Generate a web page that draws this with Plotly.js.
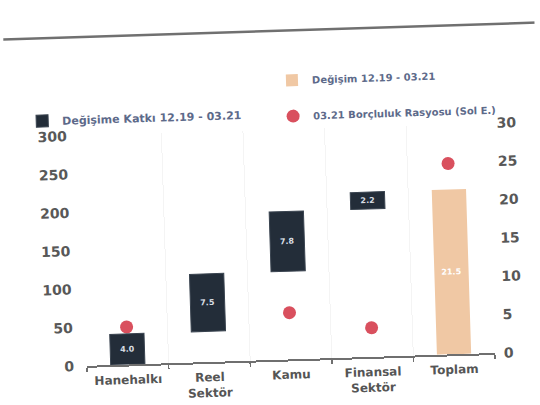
<!DOCTYPE html>
<html>
<head>
<meta charset="utf-8">
<script src="https://cdn.plot.ly/plotly-3.0.1.min.js"></script>
<style>
  html, body { margin: 0; padding: 0; background: #ffffff; overflow: hidden; }
  #chart { width: 540px; height: 405px; transform: rotate(-1.8deg); transform-origin: 50% 50%; }
</style>
</head>
<body>
<div id="chart"></div>
<script>
// Sectors
const categories = ['Hanehalkı', 'Reel<br>Sektör', 'Kamu', 'Finansal<br>Sektör', 'Toplam'];
// Contribution to the change 12.19 - 03.21 (right axis), one per sector
const contribution = [4.0, 7.5, 7.8, 2.2];
// Total change 12.19 - 03.21 (right axis)
const totalChange = [21.5];
// 03.21 debt ratio (left axis)
const debtRatio = [49, 104, 61, 38, 249];
// Axis ticks
const leftTicks = [0, 50, 100, 150, 200, 250, 300];
const rightTicks = [0, 5, 10, 15, 20, 25, 30];

const sectorCats = categories.slice(0, contribution.length);
const totalCat = categories.slice(contribution.length);

// floating bars start where the previous sector ended
const bases = [];
let running = 0;
contribution.forEach(v => { bases.push(running); running += v; });

const fmt = v => v.toFixed(1);
const legendFont = { family: 'DejaVu Sans', size: 10, weight: 700, color: '#5d6a8a' };

const traces = [
  {
    type: 'bar',
    name: 'Değişime Katkı 12.19 - 03.21',
    x: sectorCats,
    y: contribution,
    base: bases,
    yaxis: 'y2',
    width: 0.42,
    marker: { color: '#232d39', line: { color: '#3a4450', width: 1 } },
    text: contribution.map(fmt),
    textposition: 'inside',
    insidetextanchor: 'middle',
    textangle: 0,
    textfont: { family: 'DejaVu Sans', size: 8, weight: 700, color: '#d8dde3' },
    legend: 'legend2',
    hoverinfo: 'skip'
  },
  {
    type: 'bar',
    name: 'Değişim 12.19 - 03.21',
    x: totalCat,
    y: totalChange,
    yaxis: 'y2',
    width: 0.42,
    marker: { color: '#f0c8a4' },
    text: totalChange.map(fmt),
    textposition: 'inside',
    insidetextanchor: 'middle',
    textangle: 0,
    textfont: { family: 'DejaVu Sans', size: 8, weight: 700, color: '#ffffff' },
    legend: 'legend',
    hoverinfo: 'skip'
  },
  {
    type: 'scatter',
    mode: 'markers',
    name: '03.21 Borçluluk Rasyosu (Sol E.)',
    x: categories,
    y: debtRatio,
    yaxis: 'y',
    marker: { color: '#d9505e', size: 13 },
    legend: 'legend3',
    hoverinfo: 'skip'
  }
];

const tickFont = { family: 'DejaVu Sans', size: 14, weight: 700, color: '#585858' };

const layout = {
  width: 540,
  height: 405,
  margin: { l: 82, r: 50, t: 130, b: 45 },
  paper_bgcolor: '#ffffff',
  plot_bgcolor: '#ffffff',
  barmode: 'overlay',
  showlegend: true,
  xaxis: {
    type: 'category',
    categoryorder: 'array',
    categoryarray: categories,
    tickson: 'boundaries',
    showgrid: true,
    gridcolor: '#f4f4f4',
    gridwidth: 1,
    showline: true,
    linecolor: '#6f6f6f',
    linewidth: 2,
    ticks: 'outside',
    ticklen: 4,
    tickwidth: 1.5,
    tickcolor: '#6f6f6f',
    tickangle: 0,
    ticklabelstandoff: 3,
    tickfont: { family: 'DejaVu Sans', size: 12, weight: 700, color: '#555555' },
    fixedrange: true
  },
  yaxis: {
    range: [0, 300],
    tickvals: leftTicks,
    ticktext: leftTicks.map(String),
    showgrid: false,
    zeroline: false,
    showline: false,
    ticks: '',
    ticklabelstandoff: 12,
    tickfont: tickFont,
    fixedrange: true
  },
  yaxis2: {
    overlaying: 'y',
    side: 'right',
    range: [0, 30],
    tickvals: rightTicks,
    ticktext: rightTicks.map(String),
    showgrid: false,
    zeroline: false,
    showline: false,
    ticks: '',
    ticklabelstandoff: 8,
    tickfont: tickFont,
    fixedrange: true
  },
  legend: {
    x: 0.475, y: 1.213, xanchor: 'left', yanchor: 'middle',
    bgcolor: 'rgba(0,0,0,0)', font: legendFont, itemwidth: 30
  },
  legend2: {
    x: -0.14, y: 1.07, xanchor: 'left', yanchor: 'middle',
    bgcolor: 'rgba(0,0,0,0)', font: Object.assign({}, legendFont, { size: 11 }), itemwidth: 30
  },
  legend3: {
    x: 0.475, y: 1.057, xanchor: 'left', yanchor: 'middle',
    bgcolor: 'rgba(0,0,0,0)', font: legendFont, itemwidth: 30
  },
  shapes: [
    {
      type: 'line', xref: 'paper', yref: 'paper',
      x0: -0.18, x1: 1.13, y0: 1.43, y1: 1.43,
      line: { color: '#707070', width: 2.5 }
    }
  ]
};

Plotly.newPlot('chart', traces, layout, { displayModeBar: false, staticPlot: true });
</script>
</body>
</html>
